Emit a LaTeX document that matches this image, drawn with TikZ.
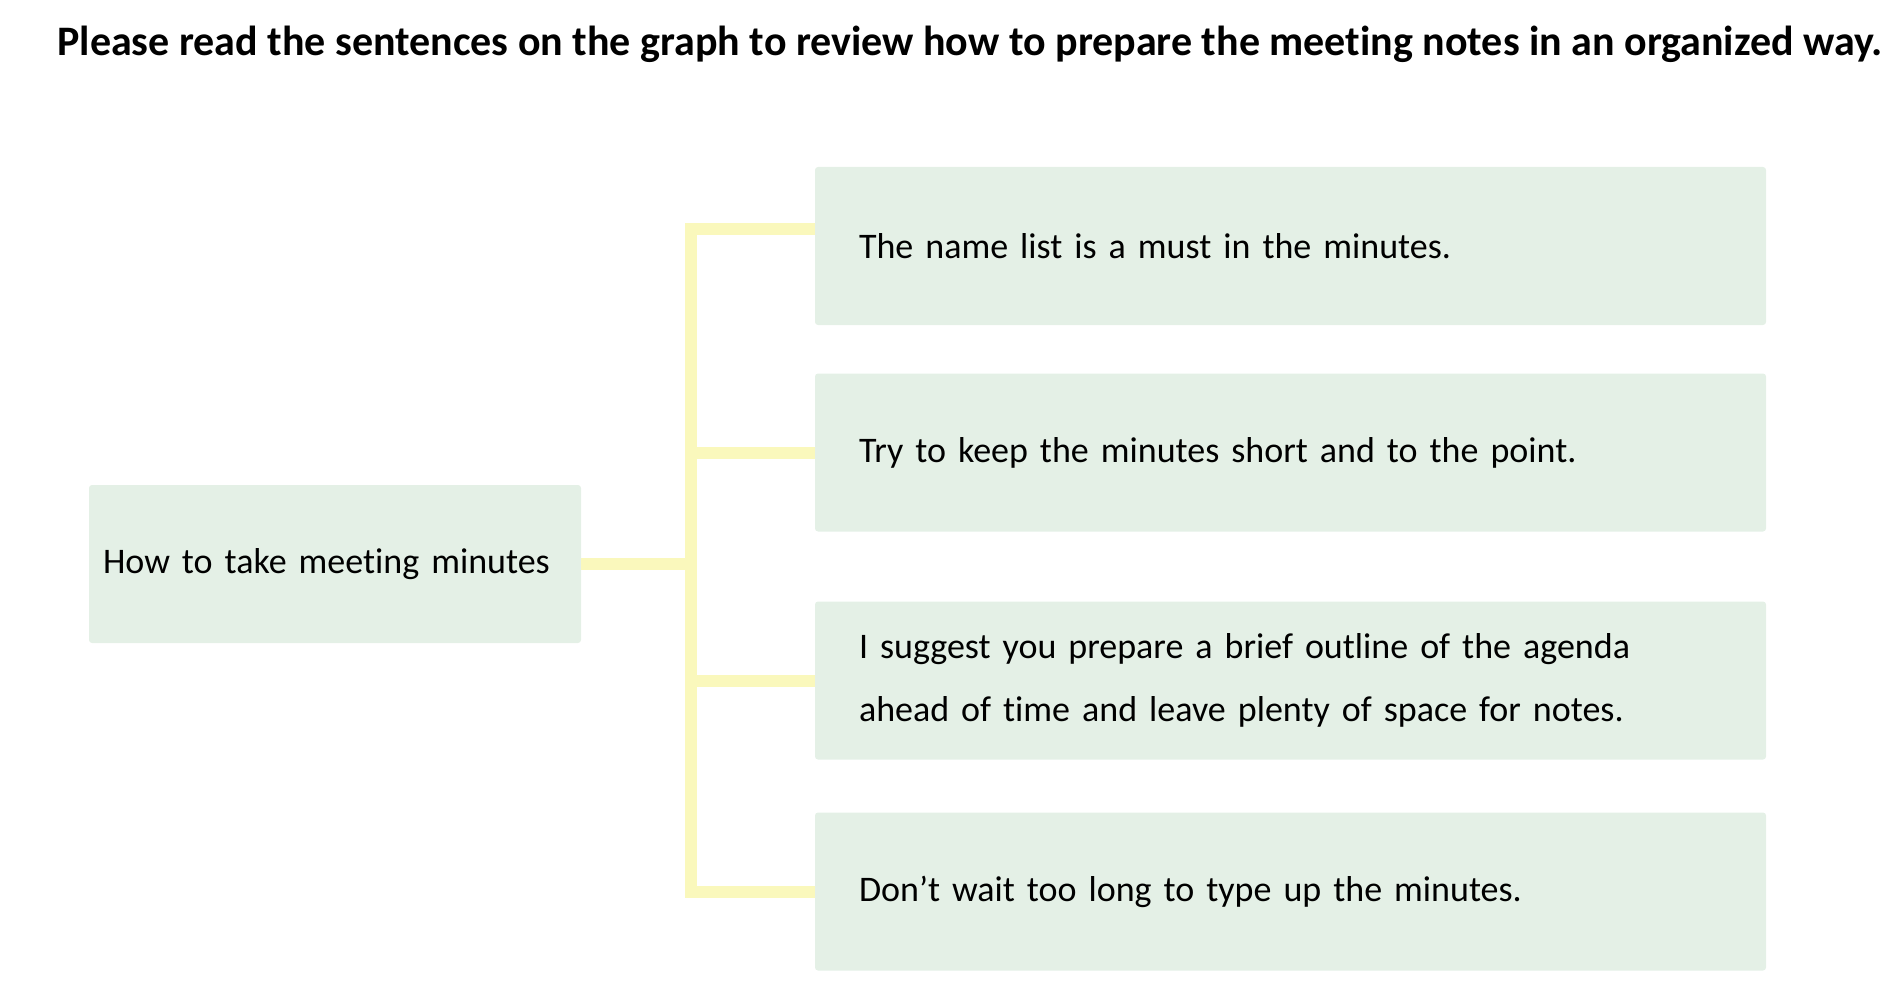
\documentclass[tikz,border=0pt]{standalone}
\usepackage{fontspec}
\setmainfont{Carlito}[Ligatures=NoCommon]
\definecolor{boxgreen}{HTML}{E4F0E6}
\definecolor{lineyellow}{HTML}{FAF8BC}
\tikzset{
tip/.style={rectangle,rounded corners=3pt,fill=boxgreen,minimum width=951pt,minimum height=158pt,inner xsep=44pt,inner ysep=0pt,text width=863pt,align=left,font=\fontsize{36}{63}\selectfont},
topic/.style={rectangle,rounded corners=3pt,fill=boxgreen,minimum width=492pt,minimum height=158pt,inner xsep=14pt,inner ysep=0pt,text width=464pt,align=left,font=\fontsize{36}{63}\selectfont},
branch/.style={line width=12pt,draw=lineyellow},
}

\begin{document}
\begin{tikzpicture}[x=1pt,y=-1pt]
\useasboundingbox (0,0) rectangle (1902,1008);
\node[font=\fontsize{42}{46}\bfseries] (title) at (970,44) {Please read the sentences on the graph to review how to prepare the meeting notes in an organized way.};

\node[topic] (root) at (335,564) {How to take meeting minutes};

\node[tip] (tip1) at (1290.5,246) {The name list is a must in the minutes.};
\node[tip] (tip2) at (1290.5,452.5) {Try to keep the minutes short and to the point.};
\node[tip] (tip3) at (1290.5,680.5) {I suggest you prepare a brief outline of the agenda\\ahead of time and leave plenty of space for notes.};
\node[tip] (tip4) at (1290.5,891.5) {Don’t wait too long to type up the minutes.};

\coordinate (top) at (690.5,229);
\coordinate (bot) at (690.5,892);
\draw[branch] (tip1.west |- top) -- (top) -- (bot) -- (bot -| tip4.west);
\draw[branch] (root.east) -- (root.east -| top);
\draw[branch] (tip2.west) -- (tip2.west -| top);
\draw[branch] (tip3.west) -- (tip3.west -| top);
\end{tikzpicture}
\end{document}
